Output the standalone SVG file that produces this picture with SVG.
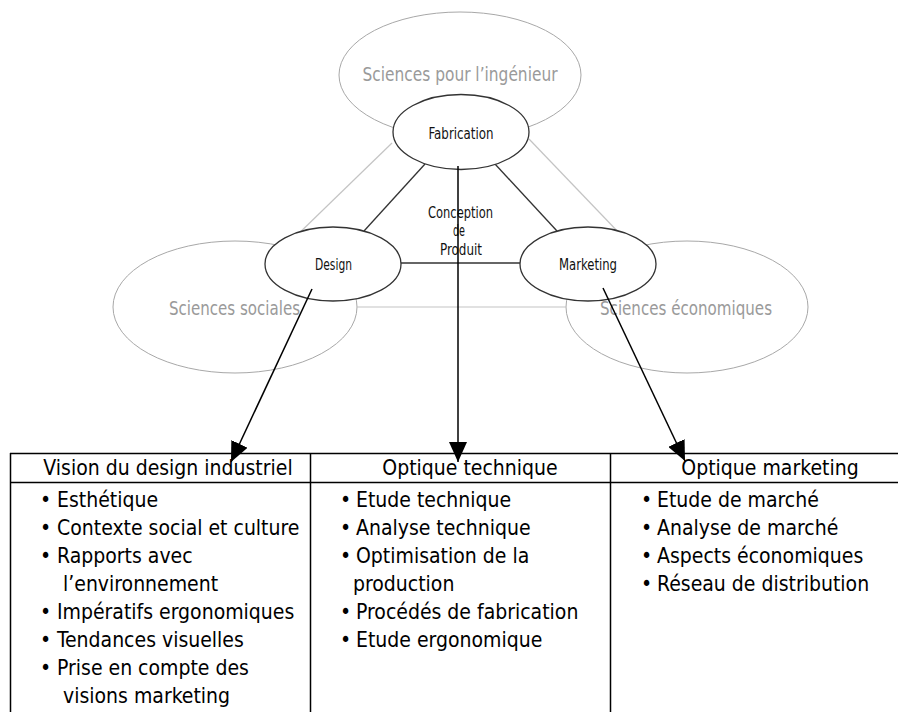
<svg xmlns="http://www.w3.org/2000/svg" width="898" height="712" viewBox="0 0 898 712">
<style>
  text { font-family: "DejaVu Sans Condensed", "DejaVu Sans", sans-serif; font-stretch: condensed; }
  .big { fill: #ffffff; stroke: #a8a8a8; stroke-width: 1; }
  .small { fill: #ffffff; stroke: #333333; stroke-width: 1.3; }
  .glabel { fill: #9a9a9a; font-size: 19px; text-anchor: middle; }
  .nlabel { fill: #111111; font-size: 16px; text-anchor: middle; }
  .light { stroke: #c4c4c4; stroke-width: 1.2; fill: none; }
  .dark { stroke: #333333; stroke-width: 1.3; fill: none; }
  .arrow { stroke: #000000; stroke-width: 1.5; fill: none; marker-end: url(#ah); }
  .tline { stroke: #000000; stroke-width: 1.5; fill: none; }
  .head { fill: #000000; font-size: 21px; text-anchor: middle; }
  .item { fill: #000000; font-size: 21px; }
</style>
<defs>
  <marker id="ah" markerUnits="userSpaceOnUse" markerWidth="20" markerHeight="18" viewBox="0 0 20 18" refX="20" refY="9" orient="auto">
    <path d="M0,0 L20,9 L0,18 z" fill="#000000"/>
  </marker>
</defs>

<!-- large domain ellipses -->
<g id="sciences-ingenieur">
  <ellipse class="big" cx="460" cy="75" rx="121" ry="63"/>
  <text class="glabel" x="460" y="81" textLength="195" lengthAdjust="spacingAndGlyphs">Sciences pour l’ingénieur</text>
</g>
<g id="sciences-sociales">
  <ellipse class="big" cx="235" cy="307" rx="122" ry="66"/>
  <text class="glabel" x="234.5" y="315" textLength="131" lengthAdjust="spacingAndGlyphs">Sciences sociales</text>
</g>
<g id="sciences-economiques">
  <ellipse class="big" cx="687" cy="307" rx="121" ry="66"/>
  <text class="glabel" x="686" y="315" textLength="172" lengthAdjust="spacingAndGlyphs">Sciences économiques</text>
</g>

<g id="connectors">
  <line class="light" x1="392" y1="143" x2="290" y2="242"/>
  <line class="light" x1="529" y1="139" x2="622" y2="236"/>
  <line class="light" x1="357" y1="307" x2="566" y2="307" stroke-width="2"/>
  <line class="dark" x1="425" y1="164" x2="364" y2="231"/>
  <line class="dark" x1="495" y1="164" x2="557" y2="231"/>
  <line class="dark" x1="401" y1="263" x2="520" y2="263"/>
</g>

<g id="fabrication">
  <ellipse class="small" cx="461" cy="132" rx="68" ry="37.5"/>
  <text class="nlabel" x="461" y="138.5" textLength="65" lengthAdjust="spacingAndGlyphs">Fabrication</text>
</g>
<g id="design">
  <ellipse class="small" cx="333" cy="264" rx="68" ry="37"/>
  <text class="nlabel" x="333.5" y="270" textLength="37" lengthAdjust="spacingAndGlyphs">Design</text>
</g>
<g id="marketing">
  <ellipse class="small" cx="588" cy="264" rx="68" ry="37"/>
  <text class="nlabel" x="588" y="270" textLength="58" lengthAdjust="spacingAndGlyphs">Marketing</text>
</g>
<g id="conception-produit">
  <text class="nlabel" x="460.5" y="218" textLength="65" lengthAdjust="spacingAndGlyphs">Conception</text>
  <text class="nlabel" x="459" y="236" textLength="12" lengthAdjust="spacingAndGlyphs">de</text>
  <text class="nlabel" x="461" y="255" textLength="42" lengthAdjust="spacingAndGlyphs">Produit</text>
</g>

<g id="arrows">
  <line class="arrow" x1="312" y1="289" x2="231" y2="462"/>
  <line class="arrow" x1="458" y1="166" x2="458" y2="462"/>
  <line class="arrow" x1="603" y1="288" x2="685" y2="461"/>
</g>

<g id="table">
  <line class="tline" x1="10" y1="453.5" x2="898" y2="453.5"/>
  <line class="tline" x1="10" y1="482.5" x2="898" y2="482.5"/>
  <line class="tline" x1="10.5" y1="453" x2="10.5" y2="712"/>
  <line class="tline" x1="310.5" y1="453" x2="310.5" y2="712"/>
  <line class="tline" x1="610.5" y1="453" x2="610.5" y2="712"/>
</g>

<g id="col-design">
  <text class="head" x="168" y="475">Vision du design industriel</text>
  <text class="item" x="40" y="506.5">•</text><text class="item" x="57" y="506.5">Esthétique</text>
  <text class="item" x="40" y="534.6">•</text><text class="item" x="57" y="534.6">Contexte social et culture</text>
  <text class="item" x="40" y="562.7">•</text><text class="item" x="57" y="562.7">Rapports avec</text>
  <text class="item" x="63" y="590.8">l’environnement</text>
  <text class="item" x="40" y="618.9">•</text><text class="item" x="57" y="618.9">Impératifs ergonomiques</text>
  <text class="item" x="40" y="647">•</text><text class="item" x="57" y="647">Tendances visuelles</text>
  <text class="item" x="40" y="675.1">•</text><text class="item" x="57" y="675.1">Prise en compte des</text>
  <text class="item" x="63" y="703.2">visions marketing</text>
</g>

<g id="col-technique">
  <text class="head" x="470" y="475">Optique technique</text>
  <text class="item" x="340" y="506.5">•</text><text class="item" x="356" y="506.5">Etude technique</text>
  <text class="item" x="340" y="534.6">•</text><text class="item" x="356" y="534.6">Analyse technique</text>
  <text class="item" x="340" y="562.7">•</text><text class="item" x="356" y="562.7">Optimisation de la</text>
  <text class="item" x="353" y="590.8">production</text>
  <text class="item" x="340" y="618.9">•</text><text class="item" x="356" y="618.9">Procédés de fabrication</text>
  <text class="item" x="340" y="647">•</text><text class="item" x="356" y="647">Etude ergonomique</text>
</g>

<g id="col-marketing">
  <text class="head" x="770" y="475">Optique marketing</text>
  <text class="item" x="641" y="506.5">•</text><text class="item" x="657" y="506.5">Etude de marché</text>
  <text class="item" x="641" y="534.6">•</text><text class="item" x="657" y="534.6">Analyse de marché</text>
  <text class="item" x="641" y="562.7">•</text><text class="item" x="657" y="562.7">Aspects économiques</text>
  <text class="item" x="641" y="590.8">•</text><text class="item" x="657" y="590.8">Réseau de distribution</text>
</g>
</svg>
